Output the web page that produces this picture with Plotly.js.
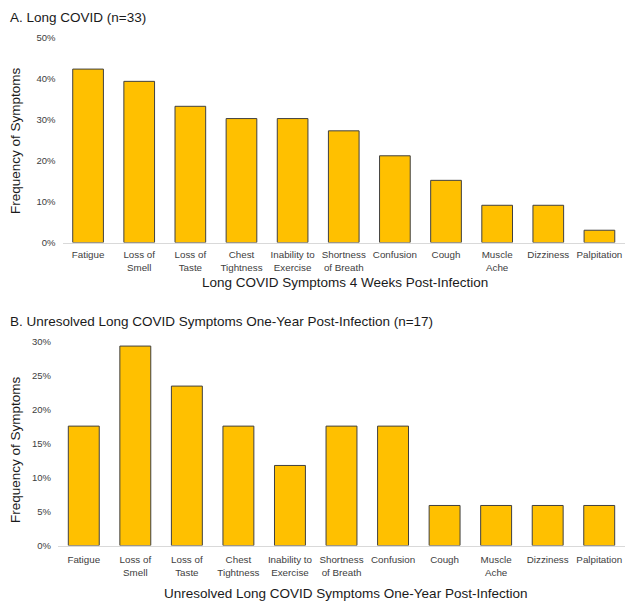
<!DOCTYPE html>
<html>
<head>
<meta charset="utf-8">
<script src="https://cdn.plot.ly/plotly-3.0.1.min.js"></script>
<style>html,body{margin:0;padding:0;background:#fff;}#chart{width:625px;height:602px;}</style>
</head>
<body>
<div id="chart"></div>
<script>
// Symptom categories (tick labels)
const categories = ["Fatigue", "Loss of<br>Smell", "Loss of<br>Taste", "Chest<br>Tightness", "Inability to<br>Exercise", "Shortness<br>of Breath", "Confusion", "Cough", "Muscle<br>Ache", "Dizziness", "Palpitation"];
// Panel A: Long COVID (n=33), frequencies
const longCovidFreq = [0.424, 0.394, 0.333, 0.303, 0.303, 0.273, 0.212, 0.152, 0.091, 0.091, 0.030];
// Panel B: Unresolved one-year (n=17), frequencies
const unresolvedFreq = [0.176, 0.294, 0.235, 0.176, 0.118, 0.176, 0.176, 0.059, 0.059, 0.059, 0.059];

const titleA = "A. Long COVID (n=33)";
const titleB = "B. Unresolved Long COVID Symptoms One-Year Post-Infection (n=17)";
const xTitleA = "Long COVID Symptoms 4 Weeks Post-Infection";
const xTitleB = "Unresolved Long COVID Symptoms One-Year Post-Infection";
const yTitle = "Frequency of Symptoms";

const W = 625, H = 602;
const FONT = "Liberation Sans, Arial, sans-serif";
const px = v => v / W;
const py = v => 1 - v / H;

const barStyle = {color: "#FFC000", line: {color: "#404040", width: 1}};

const traces = [
  {type: "bar", x: categories, y: longCovidFreq, xaxis: "x", yaxis: "y", marker: barStyle, width: 0.6, hoverinfo: "x+y"},
  {type: "bar", x: categories, y: unresolvedFreq, xaxis: "x2", yaxis: "y2", marker: barStyle, width: 0.6, hoverinfo: "x+y"}
];

const xCommon = {
  showgrid: false, zeroline: false, showline: true, linecolor: "#D9D9D9", linewidth: 1,
  ticks: "", tickfont: {family: FONT, size: 9.8, color: "#404040"}, fixedrange: true, tickangle: 0
};
const yCommon = {
  showgrid: false, zeroline: false, showline: false, ticks: "", tickformat: ".0%",
  tickfont: {family: FONT, size: 9.5, color: "#404040"}, ticklabelstandoff: 6, fixedrange: true
};

const layout = {
  width: W, height: H,
  margin: {l: 0, r: 0, t: 0, b: 0},
  paper_bgcolor: "#fff", plot_bgcolor: "#fff",
  showlegend: false,
  font: {family: FONT},
  xaxis: Object.assign({}, xCommon, {domain: [px(62.5), 1], anchor: "y", ticklabelstandoff: 3}),
  yaxis: Object.assign({}, yCommon, {domain: [py(242.5), py(38)], range: [0, 0.5], dtick: 0.1, anchor: "x"}),
  xaxis2: Object.assign({}, xCommon, {domain: [px(58), 1], anchor: "y2", ticklabelstandoff: 5}),
  yaxis2: Object.assign({}, yCommon, {domain: [py(545.5), py(342)], range: [0, 0.3], dtick: 0.05, anchor: "x2"}),
  annotations: [
    {text: titleA, xref: "paper", yref: "paper", x: px(8), y: py(17), xanchor: "left", yanchor: "middle", showarrow: false, font: {family: FONT, size: 13.5, color: "#1a1a1a"}},
    {text: titleB, xref: "paper", yref: "paper", x: px(8), y: py(321), xanchor: "left", yanchor: "middle", showarrow: false, font: {family: FONT, size: 13.5, color: "#1a1a1a"}},
    {text: xTitleA, xref: "paper", yref: "paper", x: px(345), y: py(282), xanchor: "center", yanchor: "middle", showarrow: false, font: {family: FONT, size: 13.5, color: "#1a1a1a"}},
    {text: xTitleB, xref: "paper", yref: "paper", x: px(345), y: py(593), xanchor: "center", yanchor: "middle", showarrow: false, font: {family: FONT, size: 13.5, color: "#1a1a1a"}},
    {text: yTitle, xref: "paper", yref: "paper", x: px(15), y: py(141), textangle: -90, xanchor: "center", yanchor: "middle", showarrow: false, font: {family: FONT, size: 13.5, color: "#1a1a1a"}},
    {text: yTitle, xref: "paper", yref: "paper", x: px(15), y: py(450), textangle: -90, xanchor: "center", yanchor: "middle", showarrow: false, font: {family: FONT, size: 13.5, color: "#1a1a1a"}}
  ]
};

Plotly.newPlot("chart", traces, layout, {displayModeBar: false, staticPlot: true});
</script>
</body>
</html>
